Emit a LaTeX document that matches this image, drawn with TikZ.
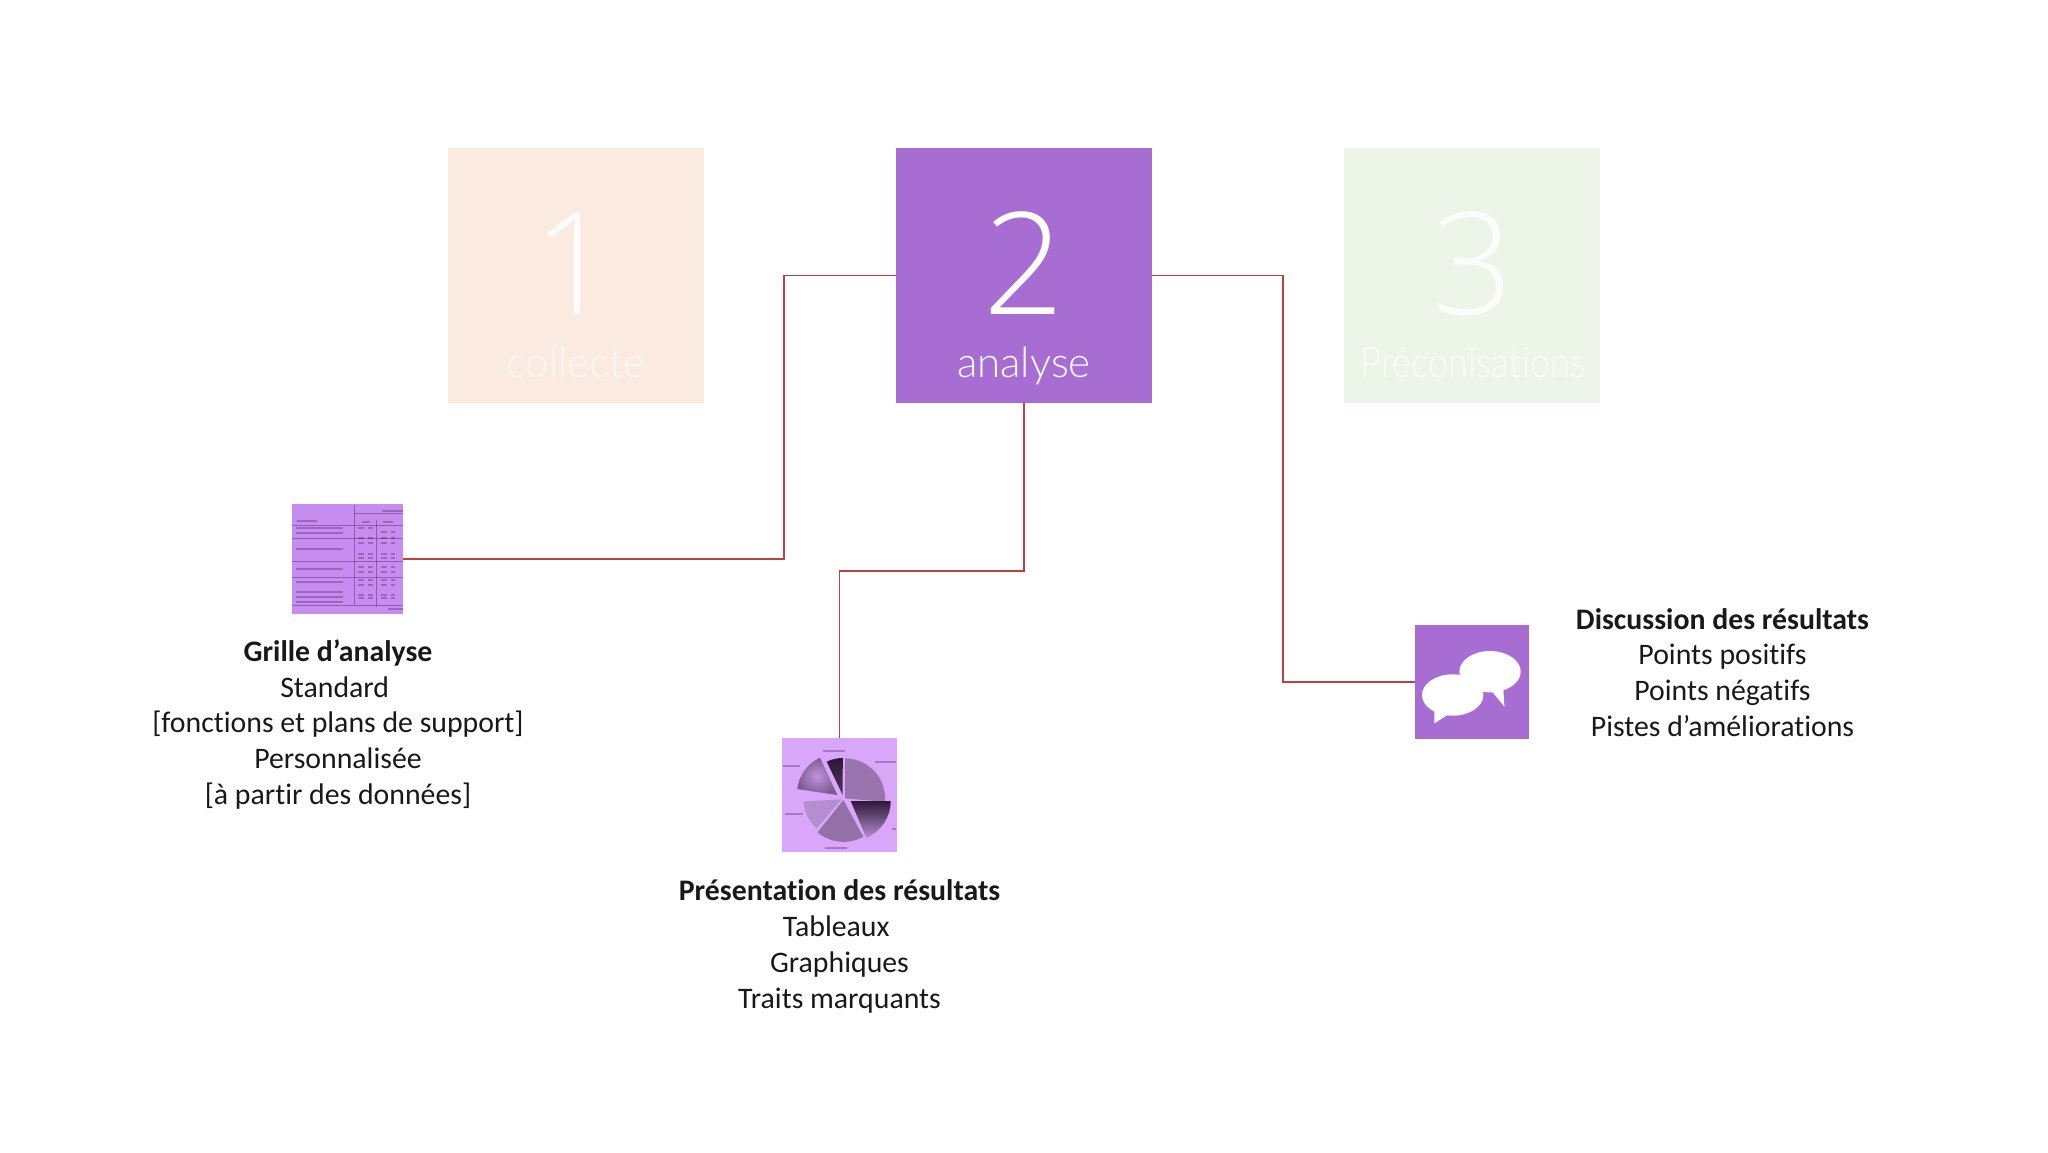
\documentclass[tikz,border=0pt]{standalone}
\usepackage{fontspec}
\setmainfont{Carlito}[Ligatures=NoCommon]
\newfontfamily\thinfont{Lato Light}
\newfontfamily\numfont{Open Sans Light}
\definecolor{stepone}{HTML}{FBEADF}
\definecolor{steptwo}{HTML}{A86DD3}
\definecolor{stepthree}{HTML}{EDF4E8}
\definecolor{linkred}{HTML}{C0403F}
\definecolor{tablemauve}{HTML}{C68CF0}
\definecolor{piemauve}{HTML}{DAA6FA}
\definecolor{slicea}{HTML}{9A74AE}
\definecolor{sliceb}{HTML}{9370A8}
\definecolor{slicec}{HTML}{B48ED0}
\definecolor{sliced}{HTML}{7E5A92}
\definecolor{slicedark}{HTML}{2E1838}
\tikzset{
	stepbox/.style={rectangle, minimum width=128pt, minimum height=127.5pt, inner sep=0pt},
	iconbox/.style={rectangle, inner sep=0pt},
	bignum/.style={anchor=base, text=white, font=\numfont\fontsize{71}{71}\selectfont},
	steplabel/.style={anchor=base, text=white, font=\thinfont\fontsize{21}{24}\selectfont},
	notes/.style={align=center, text=black!90, font=\fontsize{14.9}{17.9}\selectfont},
	linkline/.style={draw=linkred, line width=.7pt},
	tablerule/.style={draw=violet!45!black, opacity=.35, line width=.5pt},
	streak/.style={draw=violet!40!black, opacity=.28, line width=1pt},
	slice/.style={draw=none},
}
\begin{document}
\begin{tikzpicture}[x=.5pt,y=.5pt]
	\useasboundingbox (0,0) rectangle (2048,-1152);
	% steps
	\node (collecte) at ( 576, -275.5)	[stepbox, fill = stepone]	{};
	\node (analyse)  at (1024, -275.5)	[stepbox, fill = steptwo]	{};
	\node (precon)   at (1472, -275.5)	[stepbox, fill = stepthree]	{};
	\node (num1) at ( 574, -314)	[bignum, opacity=.85]	{1};
	\node (num2) at (1024, -314)	[bignum]	{2};
	\node (num3) at (1473, -314)	[bignum, opacity=.85]	{3};
	\node (lab1) at ( 576, -377)	[steplabel, opacity=.7]	{collecte};
	\node (lab2) at (1024, -377)	[steplabel]	{analyse};
	\node (lab3) at (1473, -377)	[steplabel, opacity=.7, xscale=.86, transform shape]	{Préconisations};
	% icons
	\node (grille)     at ( 347.5, -559)	[iconbox, minimum width=55.5pt, minimum height=55pt, fill = tablemauve]	{};
	\node (camembert)  at ( 839.5, -795)	[iconbox, minimum width=57.5pt, minimum height=57pt, fill = piemauve]	{};
	\node (discussion) at (1472,   -682)	[iconbox, minimum width=57pt, minimum height=57pt, fill = steptwo]	{};
	% table thumbnail
	\begin{scope}[shift={(260,-480)},x=.1667pt,y=.1667pt]
		\draw[tablerule] (282,-75) -- (282,-375);
		\draw[tablerule] (350,-120) -- (350,-380);
		\draw[tablerule] (282,-100) -- (430,-100);
		\foreach \y in {135,175,245,293,375}
			\draw[tablerule] (97,-\y) -- (430,-\y);
		\foreach \y in {145,158,208,268,305,335,350,365}
			\draw[streak] (108,-\y) -- (250,-\y);
		\foreach \y in {145,175,190,222,235,262,275,300,315,345,355}
			\draw[streak, densely dashed] (295,-\y) -- (340,-\y);
		\foreach \y in {155,175,190,222,235,262,275,300,315,345,355}
			\draw[streak, densely dashed] (362,-\y) -- (405,-\y);
		\draw[streak] (110,-122) -- (170,-122);
		\draw[streak] (305,-127) -- (330,-127);
		\draw[streak] (368,-127) -- (400,-127);
		\draw[streak] (365,-92) -- (428,-92);
		\draw[streak] (385,-387) -- (428,-387);
	\end{scope}
	% pie thumbnail
	\begin{scope}[shift={(760,-720)},x=.1667pt,y=.1667pt]
		\fill[slice, fill=slicea] (255,-235) -- (255,-115) arc (90:-5:120) -- cycle;
		\shade[slice, top color=slicedark, bottom color=slicec] (272,-243) -- (392,-243) arc (0:-67:120) -- cycle;
		\fill[slice, fill=sliceb] (250,-240) -- (310,-350) arc (-61:-130:122) -- cycle;
		\fill[slice, fill=slicec] (245,-238) -- (170,-325) arc (-131:-177:115) -- cycle;
		\shade[slice, inner color=slicec!70!piemauve, outer color=sliced] (232,-225) -- (180,-113) arc (115:173:120) -- cycle;
		\shade[slice, top color=slicedark, bottom color=slicedark!80!piemauve] (248,-225) -- (200,-125) arc (116:90:110) -- cycle;
		\draw[streak] (190,-92) -- (255,-92);
		\draw[streak] (70,-138) -- (120,-138);
		\draw[streak] (345,-127) -- (408,-127);
		\draw[streak] (75,-283) -- (130,-283);
		\draw[streak] (195,-385) -- (262,-385);
		\draw[streak] (395,-328) -- (408,-328);
	\end{scope}
	% speech bubbles
	\begin{scope}[shift={(1400,-610)},x=.1667pt,y=.1667pt]
		\fill[white] (270,-185) ellipse (92 and 62);
		\fill[white] (275,-243) -- (313,-290) -- (310,-238) -- cycle;
		\fill[white] (158,-255) ellipse (92 and 62);
		\fill[white] (103,-303) -- (103,-340) -- (142,-315) -- cycle;
	\end{scope}
	% texts
	\node (grilletxt) at (338, -724.5)	[notes]	{\textbf{Grille d’analyse}\\Standard\kern3.3pt\\{[}fonctions et plans de support{]}\\Personnalisée\\{[}à partir des données{]}};
	\node (camtxt) at (839.5, -946.5)	[notes]	{\textbf{Présentation des résultats}\\Tableaux\kern3.3pt\\Graphiques\\Traits marquants};
	\node (distxt) at (1722.5, -672.5)	[notes]	{\textbf{Discussion des résultats}\\Points positifs\\Points négatifs\\Pistes d’améliorations};
	% links
	\coordinate (railA) at (784, -400);
	\coordinate (railB) at (900, -571);
	\coordinate (railC) at (1283, -400);
	\draw[linkline] (analyse.west) -| (railA) |- (grille.east);
	\draw[linkline] (analyse.south) |- (railB) -| (camembert.north);
	\draw[linkline] (analyse.east) -| (railC) |- (discussion.west);
\end{tikzpicture}
\end{document}
